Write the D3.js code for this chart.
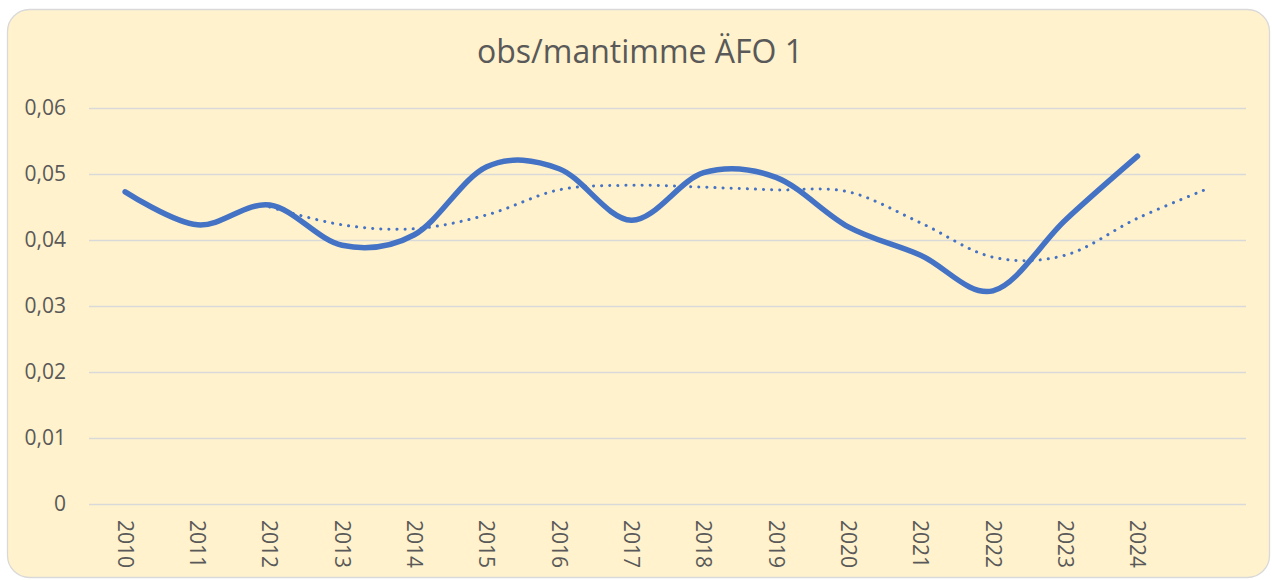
<!DOCTYPE html>
<html>
<head>
<meta charset="utf-8">
<script src="https://cdn.jsdelivr.net/npm/d3@7"></script>
<style>
  html, body { margin: 0; padding: 0; background: #fff; }
  svg { display: block; font-family: "Open Sans", "Liberation Sans", sans-serif; }
</style>
</head>
<body>
<div id="chart"></div>
<script>
// categories (last slot has no label)
const years = ['2010', '2011', '2012', '2013', '2014', '2015', '2016', '2017',
    '2018', '2019', '2020', '2021', '2022', '2023', '2024', ''];
const obsPerHour = [0.0473, 0.0423, 0.0453, 0.0392, 0.0408, 0.0511, 0.0508, 0.0430,
    0.0502, 0.0495, 0.0420, 0.0377, 0.0323, 0.0430, 0.0527, null];
const trend = [null, null, 0.0450, 0.0423, 0.0417, 0.0438, 0.0476, 0.0483,
    0.0480, 0.0476, 0.0473, 0.0426, 0.0374, 0.0377, 0.0433, 0.0479];
const yTicks = [0, 0.01, 0.02, 0.03, 0.04, 0.05, 0.06];
const title = 'obs/mantimme ÄFO 1';

const W = 1272, H = 580;
const margin = { top: 108, right: 26, bottom: 76, left: 89 };
const width = W - margin.left - margin.right;
const height = H - margin.top - margin.bottom;
const labelFont = '"Open Sans", "Liberation Sans", sans-serif';

const svg = d3.select('#chart')
    .append('svg')
    .attr('width', W)
    .attr('height', H);

// rounded chart frame
svg.append('rect')
    .attr('x', 7.5).attr('y', 9.5)
    .attr('width', 1262).attr('height', 568)
    .attr('rx', 22).attr('ry', 22)
    .attr('fill', '#FFF2CC')
    .attr('stroke', '#D9D9D9')
    .attr('stroke-width', 1.3);

svg.append('text')
    .attr('x', 640)
    .attr('y', 63)
    .attr('text-anchor', 'middle')
    .attr('fill', '#595959')
    .attr('font-size', 32)
    .text(title);

const g = svg.append('g')
    .attr('transform', `translate(${margin.left},${margin.top})`);

const x = d3.scaleBand()
    .domain(d3.range(years.length))
    .range([0, width]);

const y = d3.scaleLinear()
    .domain([0, 0.06])
    .range([height, 0]);

// gridlines
g.append('g')
    .attr('class', 'grid')
    .call(d3.axisLeft(y).tickValues(yTicks).tickSize(-width).tickFormat(''))
    .call(s => s.select('.domain').remove())
    .call(s => s.selectAll('line').attr('stroke', '#D9D9D9').attr('stroke-width', 1.3));

// y axis labels
const fmt = v => v === 0 ? '0' : d3.format('.2f')(v).replace('.', ',');
g.append('g')
    .attr('class', 'y-axis')
    .call(d3.axisLeft(y).tickValues(yTicks).tickSize(0).tickPadding(23).tickFormat(fmt))
    .call(s => s.select('.domain').remove())
    .call(s => s.selectAll('text')
        .attr('fill', '#595959')
        .attr('font-size', 21)
        .attr('font-family', labelFont));

// x axis labels, rotated
g.append('g')
    .attr('class', 'x-axis')
    .attr('transform', `translate(0,${height})`)
    .call(d3.axisBottom(x).tickSize(0).tickFormat(i => years[i]))
    .call(s => s.select('.domain').remove())
    .call(s => s.selectAll('text')
        .attr('fill', '#595959')
        .attr('font-size', 21)
        .attr('font-family', labelFont)
        .attr('text-anchor', 'start')
        .attr('dy', '0.35em')
        .attr('transform', 'translate(0,16) rotate(90)')
        .attr('x', 0).attr('y', 0));

const cx = i => x(i) + x.bandwidth() / 2;

const line = d3.line()
    .defined(d => d != null)
    .x((d, i) => cx(i))
    .y(d => y(d))
    .curve(d3.curveCatmullRom.alpha(0));

g.append('path')
    .datum(trend)
    .attr('d', line)
    .attr('fill', 'none')
    .attr('stroke', '#4472C4')
    .attr('stroke-width', 3)
    .attr('stroke-linecap', 'round')
    .attr('stroke-dasharray', '0.1 8');

g.append('path')
    .datum(obsPerHour)
    .attr('d', line)
    .attr('fill', 'none')
    .attr('stroke', '#4472C4')
    .attr('stroke-width', 5.5)
    .attr('stroke-linecap', 'round')
    .attr('stroke-linejoin', 'round');
</script>
</body>
</html>
